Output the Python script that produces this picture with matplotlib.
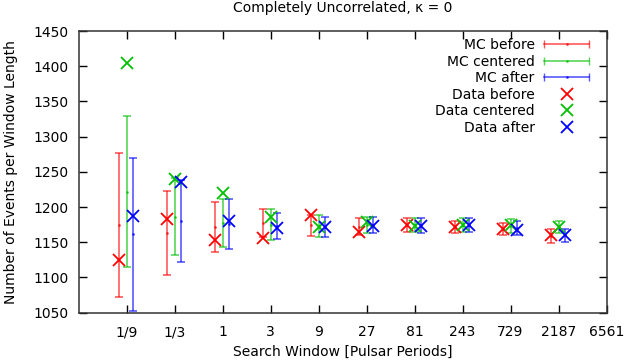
import matplotlib
matplotlib.use("Agg")  # no display
import matplotlib.pyplot as plt
import numpy as np
from matplotlib.container import ErrorbarContainer
from matplotlib.legend_handler import HandlerBase
from matplotlib.lines import Line2D
from matplotlib.ticker import NullLocator

# search windows in pulsar periods
windows = np.array([1/9, 1/3, 1, 3, 9, 27, 81, 243, 729, 2187])
tick_vals = [1/9, 1/3, 1, 3, 9, 27, 81, 243, 729, 2187, 6561]
tick_labels = ["1/9", "1/3", "1", "3", "9", "27", "81", "243", "729", "2187", "6561"]

mc_before_mean = [1174.5, 1163.4, 1171.9, 1177.3, 1174.0, 1172.0, 1174.0, 1171.7, 1169.0, 1158.4]
mc_before_err = [101.8, 59.9, 35.7, 19.4, 15.0, 12.0, 10.0, 9.0, 9.0, 10.0]
mc_centered_mean = [1222.0, 1186.4, 1177.0, 1175.0, 1173.0, 1174.5, 1174.0, 1174.0, 1172.6, 1172.0]
mc_centered_err = [107.0, 54.9, 34.0, 21.8, 15.0, 12.0, 10.0, 10.0, 10.0, 8.5]
mc_after_mean = [1161.4, 1180.7, 1176.0, 1173.0, 1171.7, 1174.5, 1174.0, 1174.0, 1170.5, 1160.0]
mc_after_err = [108.7, 58.3, 35.8, 19.0, 14.7, 11.0, 11.0, 10.0, 10.0, 9.5]

data_before = [1124.8, 1182.6, 1153.2, 1156.5, 1188.7, 1165.0, 1175.0, 1171.0, 1169.5, 1160.0]
data_centered = [1404.0, 1239.4, 1220.4, 1185.4, 1172.0, 1179.0, 1173.0, 1175.0, 1174.0, 1172.0]
data_after = [1187.8, 1236.0, 1180.7, 1169.8, 1171.0, 1173.0, 1173.0, 1174.5, 1167.4, 1160.0]

RED, GREEN, BLUE = "#ff0000", "#00c000", "#0000ff"
SHIFT = {"before": 0.84, "centered": 1.0, "after": 1.15}


class ErrKeyHandler(HandlerBase):
    # gnuplot style key sample: horizontal bar with end caps
    def create_artists(self, legend, orig_handle, xdescent, ydescent,
                       width, height, fontsize, trans):
        src = orig_handle[0]
        y = height / 2 - ydescent
        x0, x1 = -xdescent, width - xdescent
        bar = Line2D([x0, (x0 + x1) / 2, x1], [y, y, y], color=src.get_color(),
                     alpha=src.get_alpha(), lw=1.2, marker="|", markersize=6,
                     markevery=[0, 2], transform=trans)
        dot = Line2D([(x0 + x1) / 2], [y], color=src.get_color(), alpha=src.get_alpha(),
                     marker=".", markersize=2, ls="none", transform=trans)
        return [bar, dot]


fig = plt.figure(figsize=(6.24, 3.61), dpi=100)
fig.subplots_adjust(left=0.126, right=0.972, bottom=0.134, top=0.914)
ax = fig.add_subplot(111)

err_kw = dict(fmt=".", ms=2, capsize=3, elinewidth=1.2, capthick=1.2, alpha=0.65)
h_mcb = ax.errorbar(windows * SHIFT["before"], mc_before_mean, yerr=mc_before_err,
                    color=RED, label="MC before", **err_kw)
h_mcc = ax.errorbar(windows * SHIFT["centered"], mc_centered_mean, yerr=mc_centered_err,
                    color=GREEN, label="MC centered", **err_kw)
h_mca = ax.errorbar(windows * SHIFT["after"], mc_after_mean, yerr=mc_after_err,
                    color=BLUE, label="MC after", **err_kw)

mk_kw = dict(ls="none", marker="x", ms=9, mew=1.3)
h_db, = ax.plot(windows * SHIFT["before"], data_before, color=RED, label="Data before", **mk_kw)
h_dc, = ax.plot(windows * SHIFT["centered"], data_centered, color=GREEN, label="Data centered", **mk_kw)
h_da, = ax.plot(windows * SHIFT["after"], data_after, color=BLUE, label="Data after", **mk_kw)

ax.set_xscale("log", base=3)
ax.set_xlim(1/27, 6561)
ax.set_xticks(tick_vals)
ax.set_xticklabels(tick_labels)
ax.xaxis.set_minor_locator(NullLocator())
ax.set_ylim(1050, 1450)
ax.set_yticks(np.arange(1050, 1451, 50))

ax.tick_params(direction="in", top=True, right=True, length=6, width=1,
               labelsize=10, pad=7, colors="black")
ax.tick_params(axis="x", pad=9)
for sp in ax.spines.values():
    sp.set_linewidth(1.1)
    sp.set_color("#333333")

ax.set_title("Completely Uncorrelated, κ = 0", fontsize=10, pad=14)
ax.set_xlabel("Search Window [Pulsar Periods]", fontsize=10, labelpad=4)
ax.set_ylabel("Number of Events per Window Length", fontsize=10, labelpad=11)

handles = [h_mcb, h_mcc, h_mca, h_db, h_dc, h_da]
leg = ax.legend(handles, [h.get_label() for h in handles],
                handler_map={ErrorbarContainer: ErrKeyHandler()},
                loc="upper right", bbox_to_anchor=(0.977, 0.995), borderaxespad=0,
                frameon=False, markerfirst=False, fontsize=10, handlelength=3.2,
                handletextpad=0.7, labelspacing=0.18, borderpad=0.4)
# right align the key rows like gnuplot
for col in leg._legend_handle_box.get_children():
    col.align = "right"

fig.savefig("out.png", dpi=100)
